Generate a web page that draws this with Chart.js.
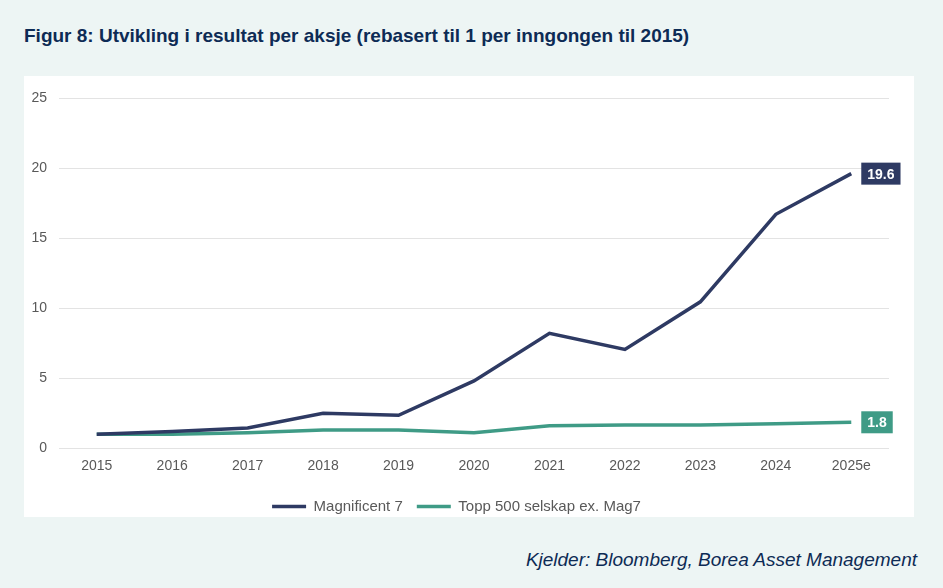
<!DOCTYPE html>
<html>
<head>
<meta charset="utf-8">
<script src="https://cdn.jsdelivr.net/npm/chart.js@4"></script>
<style>
  body { margin: 0; background: #edf5f4; width: 943px; height: 588px; position: relative; overflow: hidden; font-family: "Liberation Sans", Arial, sans-serif; }
  #title { position: absolute; left: 24px; top: 25px; font-size: 19px; font-weight: bold; color: #0d2b55; white-space: nowrap; }
  #panel { position: absolute; left: 24px; top: 76px; width: 890px; height: 441px; background: #fff; }
  #chart { position: absolute; left: 0; top: 0; }
  #source { position: absolute; right: 26px; top: 549px; font-size: 19px; font-style: italic; color: #0d2b55; white-space: nowrap; }
</style>
</head>
<body>
<div id="title">Figur 8: Utvikling i resultat per aksje (rebasert til 1 per inngongen til 2015)</div>
<div id="panel"><canvas id="chart" width="890" height="448"></canvas></div>
<div id="source">Kjelder: Bloomberg, Borea Asset Management</div>
<script>
// Data
const years = ['2015', '2016', '2017', '2018', '2019', '2020', '2021', '2022', '2023', '2024', '2025e'];
const mag7 = [1.0, 1.2, 1.45, 2.5, 2.35, 4.8, 8.2, 7.05, 10.45, 16.7, 19.6];
const top500 = [1.0, 1.0, 1.1, 1.3, 1.3, 1.1, 1.6, 1.65, 1.65, 1.75, 1.85];
const endLabels = ['19.6', '1.8'];

const navy = '#2e3a63';
const teal = '#3f9b86';
const fontFamily = '"Liberation Sans", Arial, sans-serif';

// Boxed value label at the last point of each series
const endLabelPlugin = {
    id: 'endLabels',
    afterDatasetsDraw(chart) {
        const ctx = chart.ctx;
        chart.data.datasets.forEach((ds, i) => {
            const meta = chart.getDatasetMeta(i);
            const pt = meta.data[meta.data.length - 1];
            const text = endLabels[i];
            ctx.save();
            ctx.font = 'bold 14px ' + fontFamily;
            const w = ctx.measureText(text).width + 12;
            const h = 22;
            const x = pt.x + 10;
            const y = pt.y - h / 2;
            ctx.fillStyle = ds.borderColor;
            ctx.fillRect(x, y, w, h);
            ctx.fillStyle = '#fff';
            ctx.textAlign = 'center';
            ctx.textBaseline = 'middle';
            ctx.fillText(text, x + w / 2, y + h / 2 + 1);
            ctx.restore();
        });
    }
};

new Chart(document.getElementById('chart'), {
    type: 'line',
    data: {
        labels: years,
        datasets: [
            { label: 'Magnificent 7', data: mag7, borderColor: navy, backgroundColor: navy, borderWidth: 3.5, pointRadius: 0, tension: 0 },
            { label: 'Topp 500 selskap ex. Mag7', data: top500, borderColor: teal, backgroundColor: teal, borderWidth: 3.5, pointRadius: 0, tension: 0 }
        ]
    },
    options: {
        responsive: false,
        animation: false,
        layout: { padding: { left: 0, right: 25, top: 22, bottom: 0 } },
        plugins: {
            legend: {
                position: 'bottom',
                labels: {
                    usePointStyle: true,
                    pointStyle: 'line',
                    pointStyleWidth: 34,
                    color: '#595959',
                    font: { size: 15, family: fontFamily },
                    padding: 14
                }
            },
            tooltip: { enabled: false }
        },
        scales: {
            x: {
                offset: true,
                grid: { display: false, drawTicks: false },
                border: { display: false },
                ticks: { color: '#595959', font: { size: 14, family: fontFamily }, padding: 10 }
            },
            y: {
                min: 0,
                max: 25,
                afterFit(scale) { scale.width = 35; },
                ticks: { stepSize: 5, color: '#595959', font: { size: 14, family: fontFamily }, padding: 12 },
                grid: { color: '#e3e3e3', drawTicks: false },
                border: { display: false }
            }
        }
    },
    plugins: [endLabelPlugin]
});
</script>
</body>
</html>
